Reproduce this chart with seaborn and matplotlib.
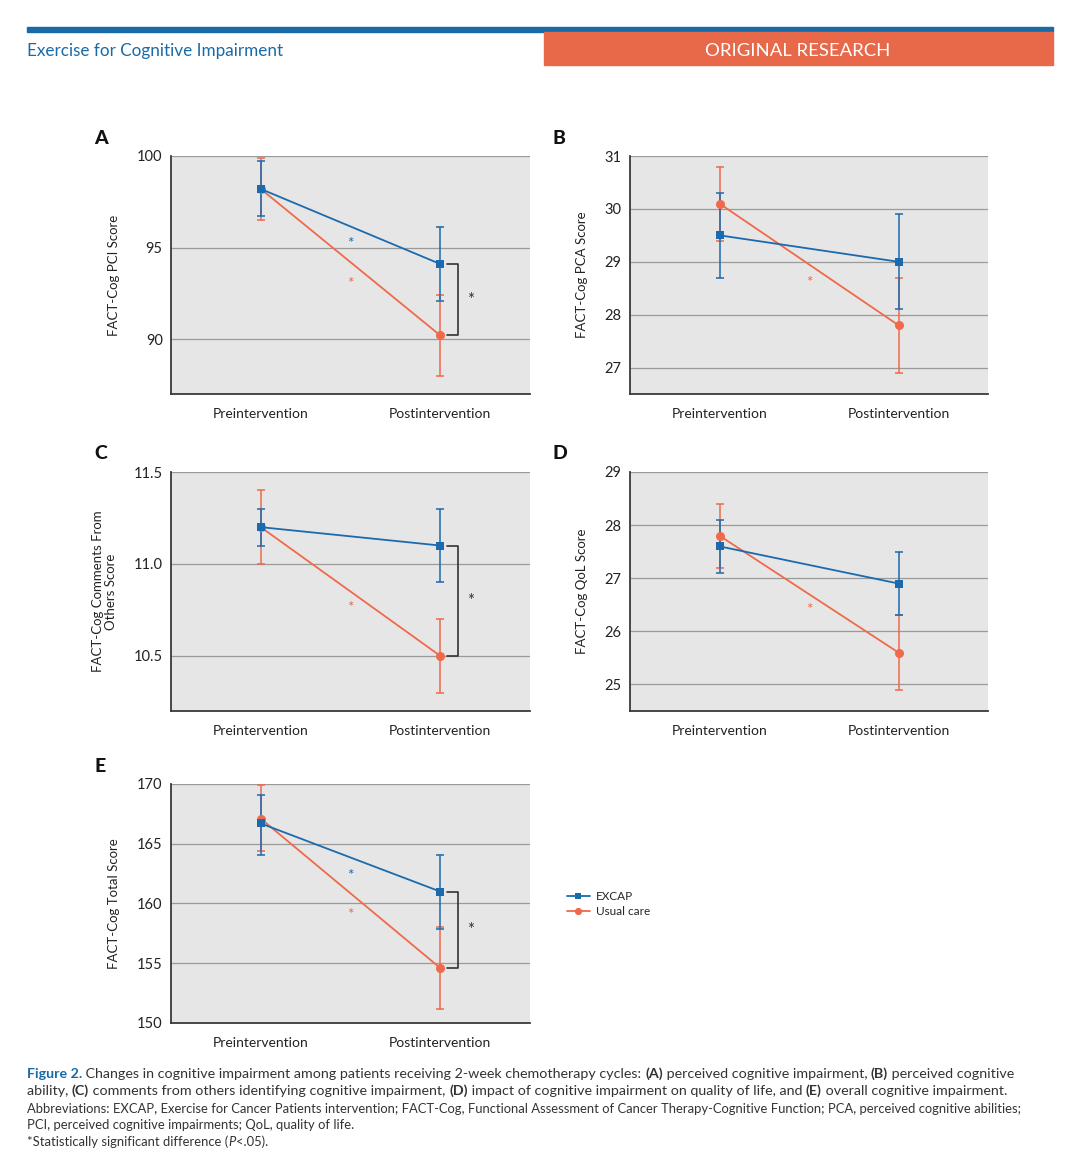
import numpy as np
import pandas as pd
import matplotlib.pyplot as plt
import seaborn as sns
from matplotlib.patches import Rectangle

# ------------------------------------------------------------
# Datos (media y límites de la barra de error)
# ------------------------------------------------------------
times = ["Preintervention", "Postintervention"]
groups = ["EXCAP", "Usual care"]

pci_excap = [98.2, 94.1]
pci_excap_lo = [96.7, 92.1]
pci_excap_hi = [99.7, 96.1]
pci_usual = [98.2, 90.2]
pci_usual_lo = [96.5, 88.0]
pci_usual_hi = [99.9, 92.4]

pca_excap = [29.5, 29.0]
pca_excap_lo = [28.7, 28.1]
pca_excap_hi = [30.3, 29.9]
pca_usual = [30.1, 27.8]
pca_usual_lo = [29.4, 26.9]
pca_usual_hi = [30.8, 28.7]

cfo_excap = [11.2, 11.1]
cfo_excap_lo = [11.1, 10.9]
cfo_excap_hi = [11.3, 11.3]
cfo_usual = [11.2, 10.5]
cfo_usual_lo = [11.0, 10.3]
cfo_usual_hi = [11.4, 10.7]

qol_excap = [27.6, 26.9]
qol_excap_lo = [27.1, 26.3]
qol_excap_hi = [28.1, 27.5]
qol_usual = [27.8, 25.6]
qol_usual_lo = [27.2, 24.9]
qol_usual_hi = [28.4, 26.3]

tot_excap = [166.7, 161.0]
tot_excap_lo = [164.1, 157.9]
tot_excap_hi = [169.1, 164.1]
tot_usual = [167.1, 154.6]
tot_usual_lo = [164.4, 151.2]
tot_usual_hi = [169.9, 158.0]

panel_letters = ["A", "B", "C", "D", "E"]
ylabels = ["FACT-Cog PCI Score", "FACT-Cog PCA Score",
           "FACT-Cog Comments From\nOthers Score", "FACT-Cog QoL Score",
           "FACT-Cog Total Score"]
ylims = [(87, 100), (26.5, 31), (10.2, 11.5), (24.5, 29), (150, 170)]
yticks = [[90, 95, 100], [27, 28, 29, 30, 31], [10.5, 11.0, 11.5],
          [25, 26, 27, 28, 29], [150, 155, 160, 165, 170]]
ytick_fmt = ["{:.0f}", "{:.0f}", "{:.1f}", "{:.0f}", "{:.0f}"]

# asteriscos de cambio dentro del grupo (None = no significativo)
star_excap = [95.2, None, None, None, 162.3]
star_usual = [93.0, 28.6, 10.76, 26.4, 159.0]
# diferencia significativa entre grupos en postintervención
between_sig = [True, False, True, False, True]

COLOR_EXCAP = "#1b6aae"
COLOR_USUAL = "#f0694b"
BLUE_HEAD = "#1a6aa6"
ORANGE_HEAD = "#e8684a"

paneles = [
    (pci_excap, pci_excap_lo, pci_excap_hi, pci_usual, pci_usual_lo, pci_usual_hi),
    (pca_excap, pca_excap_lo, pca_excap_hi, pca_usual, pca_usual_lo, pca_usual_hi),
    (cfo_excap, cfo_excap_lo, cfo_excap_hi, cfo_usual, cfo_usual_lo, cfo_usual_hi),
    (qol_excap, qol_excap_lo, qol_excap_hi, qol_usual, qol_usual_lo, qol_usual_hi),
    (tot_excap, tot_excap_lo, tot_excap_hi, tot_usual, tot_usual_lo, tot_usual_hi),
]

# posiciones de los ejes en píxeles (izq, arriba, der, abajo)
W, H = 1072, 1162
boxes = [(171, 156, 530, 394), (630, 156, 988, 394),
         (171, 472, 530, 711), (630, 472, 988, 711),
         (171, 784, 530, 1023)]

sns.set_theme(style="white")
plt.rcParams["font.family"] = ["Lato", "DejaVu Sans"]

fig = plt.figure(figsize=(W / 100, H / 100), dpi=100)

x_pos = np.arange(len(times))
axes = []

for i, datos in enumerate(paneles):
    ex, ex_lo, ex_hi, us, us_lo, us_hi = datos
    l, t, r, b = boxes[i]
    ax = fig.add_axes([l / W, 1 - b / H, (r - l) / W, (b - t) / H])
    axes.append(ax)
    ax.set_facecolor("#e6e6e6")

    df = pd.DataFrame({
        "x": np.concatenate([x_pos, x_pos]),
        "mean": us + ex,
        "group": ["Usual care"] * 2 + ["EXCAP"] * 2,
    })

    # barras de error
    ax.errorbar(x_pos, us, yerr=[np.subtract(us, us_lo), np.subtract(us_hi, us)],
                fmt="none", ecolor=COLOR_USUAL, elinewidth=1.1, capsize=3,
                capthick=1.1, zorder=3)
    ax.errorbar(x_pos, ex, yerr=[np.subtract(ex, ex_lo), np.subtract(ex_hi, ex)],
                fmt="none", ecolor=COLOR_EXCAP, elinewidth=1.1, capsize=3,
                capthick=1.1, zorder=4)

    sns.lineplot(data=df[df["group"] == "Usual care"], x="x", y="mean",
                 color=COLOR_USUAL, marker="o", markersize=6.5,
                 markeredgewidth=0, lw=1.3, label="Usual care", ax=ax, zorder=5)
    sns.lineplot(data=df[df["group"] == "EXCAP"], x="x", y="mean",
                 color=COLOR_EXCAP, marker="s", markersize=6,
                 markeredgewidth=0, lw=1.3, label="EXCAP", ax=ax, zorder=6)
    if ax.get_legend() is not None:
        ax.get_legend().remove()

    # asteriscos dentro de grupo
    if star_excap[i] is not None:
        ax.text(0.5, star_excap[i], "*", color=COLOR_EXCAP, fontsize=11,
                ha="center", va="center")
    if star_usual[i] is not None:
        ax.text(0.5, star_usual[i], "*", color=COLOR_USUAL, fontsize=11,
                ha="center", va="center")

    # corchete entre grupos
    if between_sig[i]:
        y1, y2 = ex[1], us[1]
        ax.plot([1.04, 1.10, 1.10, 1.04], [y1, y1, y2, y2], color="#333333",
                lw=1.2, zorder=5)
        ax.text(1.17, (y1 + y2) / 2, "*", color="#333333", fontsize=12,
                ha="center", va="center")

    ax.set_xlim(-0.5, 1.5)
    ax.set_ylim(*ylims[i])
    ax.set_xticks(x_pos)
    ax.set_xticklabels(times, fontsize=10, color="#222222")
    ax.set_yticks(yticks[i])
    ax.set_yticklabels([ytick_fmt[i].format(v) for v in yticks[i]],
                       fontsize=10.5, color="#222222")
    ax.tick_params(length=0, pad=6)
    ax.tick_params(axis="x", pad=10)
    ax.set_xlabel("")
    ax.set_ylabel(ylabels[i], fontsize=9.5, color="#222222", labelpad=12,
                  linespacing=1.1)
    ax.yaxis.grid(True, color="#9a9a9a", lw=0.9)
    ax.xaxis.grid(False)
    ax.set_axisbelow(True)
    for s in ["top", "right"]:
        ax.spines[s].set_visible(False)
    for s in ["left", "bottom"]:
        ax.spines[s].set_color("#3a3a3a")
        ax.spines[s].set_linewidth(1.3)

    # letra del panel
    fig.text((l - 77) / W, 1 - (t - 18) / H, panel_letters[i], fontsize=14,
             fontweight="black", color="#111111", ha="left", va="center")

# leyenda
handles, labels = axes[0].get_legend_handles_labels()
orden = [labels.index(g) for g in groups]
fig.legend([handles[k] for k in orden], [labels[k] for k in orden],
           loc="center left", bbox_to_anchor=(556 / W, 1 - 904 / H),
           frameon=False, fontsize=8.5, handlelength=2.0, handletextpad=0.5,
           labelspacing=0.35, markerscale=0.8)

# ------------------------------------------------------------
# Encabezado de la revista
# ------------------------------------------------------------
fig.patches.append(Rectangle((27 / W, 1 - 32 / H), (1053 - 27) / W, 5 / H,
                             transform=fig.transFigure, color=BLUE_HEAD))
fig.patches.append(Rectangle((544 / W, 1 - 65 / H), (1053 - 544) / W, 33 / H,
                             transform=fig.transFigure, color=ORANGE_HEAD))
fig.text(27 / W, 1 - 51 / H, "Exercise for Cognitive Impairment", fontsize=12.3,
         color=BLUE_HEAD, ha="left", va="center")
fig.text(798 / W, 1 - 51 / H, "ORIGINAL RESEARCH", fontsize=13.3,
         color="white", ha="center", va="center")

# ------------------------------------------------------------
# Pie de figura con tramos en negrita
# ------------------------------------------------------------
renderer = fig.canvas.get_renderer()


def linea_rica(x_px, y_px, partes, size):
    x = x_px / W
    for txt, peso, color, estilo in partes:
        t = fig.text(x, 1 - y_px / H, txt, fontsize=size, fontweight=peso,
                     color=color, style=estilo, ha="left", va="baseline")
        x += t.get_window_extent(renderer).width / fig.bbox.width


gris = "#333333"
linea_rica(27, 1078, [
    ("Figure 2.", "bold", BLUE_HEAD, "normal"),
    (" Changes in cognitive impairment among patients receiving 2-week chemotherapy cycles: ", "normal", gris, "normal"),
    ("(A)", "bold", gris, "normal"),
    (" perceived cognitive impairment, ", "normal", gris, "normal"),
    ("(B)", "bold", gris, "normal"),
    (" perceived cognitive", "normal", gris, "normal"),
], 10.3)
linea_rica(27, 1095, [
    ("ability, ", "normal", gris, "normal"),
    ("(C)", "bold", gris, "normal"),
    (" comments from others identifying cognitive impairment, ", "normal", gris, "normal"),
    ("(D)", "bold", gris, "normal"),
    (" impact of cognitive impairment on quality of life, and ", "normal", gris, "normal"),
    ("(E)", "bold", gris, "normal"),
    (" overall cognitive impairment.", "normal", gris, "normal"),
], 10.3)
linea_rica(27, 1113, [
    ("Abbreviations: EXCAP, Exercise for Cancer Patients intervention; FACT-Cog, Functional Assessment of Cancer Therapy-Cognitive Function; PCA, perceived cognitive abilities;", "normal", gris, "normal"),
], 9.4)
linea_rica(27, 1129, [
    ("PCI, perceived cognitive impairments; QoL, quality of life.", "normal", gris, "normal"),
], 9.4)
linea_rica(27, 1146, [
    ("*Statistically significant difference (", "normal", gris, "normal"),
    ("P", "normal", gris, "italic"),
    ("<.05).", "normal", gris, "normal"),
], 9.4)

fig.savefig("out.png", dpi=100)
